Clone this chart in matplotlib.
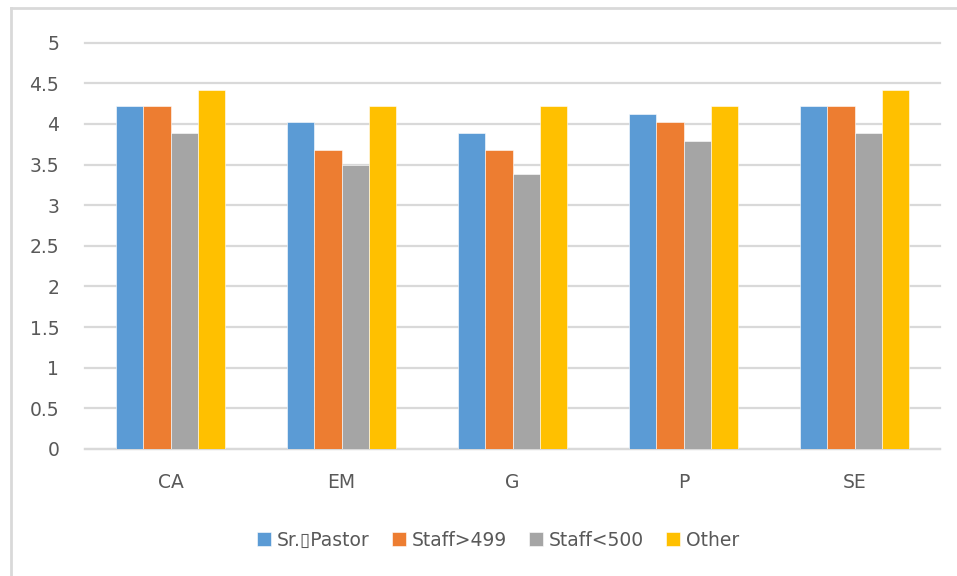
import matplotlib.pyplot as plt
import numpy as np
from matplotlib.lines import Line2D

categories = ['CA', 'EM', 'G', 'P', 'SE']
series_names = ['Sr.\u25afPastor', 'Staff>499', 'Staff<500', 'Other']
sr_pastor = [4.22, 4.02, 3.89, 4.12, 4.22]
staff_gt499 = [4.22, 3.68, 3.68, 4.02, 4.22]
staff_lt500 = [3.89, 3.50, 3.39, 3.79, 3.89]
other = [4.42, 4.22, 4.22, 4.22, 4.42]
y_ticks = [0, 0.5, 1, 1.5, 2, 2.5, 3, 3.5, 4, 4.5, 5]
y_tick_labels = ['0', '0.5', '1', '1.5', '2', '2.5', '3', '3.5', '4', '4.5', '5']

colors = ['#5b9bd5', '#ed7d31', '#a5a5a5', '#ffc000']
text_color = '#595959'
grid_color = '#d9d9d9'

plt.rcParams['font.family'] = ['DejaVu Sans']

fig = plt.figure(figsize=(9.57, 5.76), dpi=100)
ax = fig.add_axes([85 / 957, 1 - 449 / 576, 855 / 957, (449 - 42.7) / 576])

x = np.arange(len(categories))
w = 0.16
all_series = [sr_pastor, staff_gt499, staff_lt500, other]
for i, (vals, name) in enumerate(zip(all_series, series_names)):
    ax.bar(x + (i - 1.5) * w, vals, width=w, color=colors[i], label=name,
           edgecolor='white', linewidth=0.4, zorder=3)

ax.set_xlim(-0.5, len(categories) - 0.5)
ax.set_ylim(0, 5)
ax.set_yticks(y_ticks)
ax.set_yticklabels(y_tick_labels)
ax.set_xticks(x)
ax.set_xticklabels(categories)
ax.tick_params(axis='both', length=0, labelsize=13.5, colors=text_color)
ax.tick_params(axis='y', pad=18.5)
ax.tick_params(axis='x', pad=17)
ax.yaxis.grid(True, color=grid_color, linewidth=1.6, zorder=0)
for gl in ax.get_ygridlines():
    gl.set_clip_on(False)
ax.set_axisbelow(True)
for s in ['left', 'right', 'top']:
    ax.spines[s].set_visible(False)
ax.spines['bottom'].set_color(grid_color)
ax.spines['bottom'].set_linewidth(1.6)

leg = fig.legend(loc='center', bbox_to_anchor=(498 / 957, 1 - 540 / 576), ncol=4,
                 frameon=False, fontsize=13.5, handlelength=0.75, handleheight=0.75,
                 handletextpad=0.3, columnspacing=1.2)
for t in leg.get_texts():
    t.set_color(text_color)

# chart border (only top and left visible in the crop)
fig.add_artist(Line2D([11 / 957, 11 / 957], [0, 1 - 8 / 576], color=grid_color, linewidth=2))
fig.add_artist(Line2D([11 / 957, 1], [1 - 8 / 576, 1 - 8 / 576], color=grid_color, linewidth=2))

fig.savefig('out.png', dpi=100)
